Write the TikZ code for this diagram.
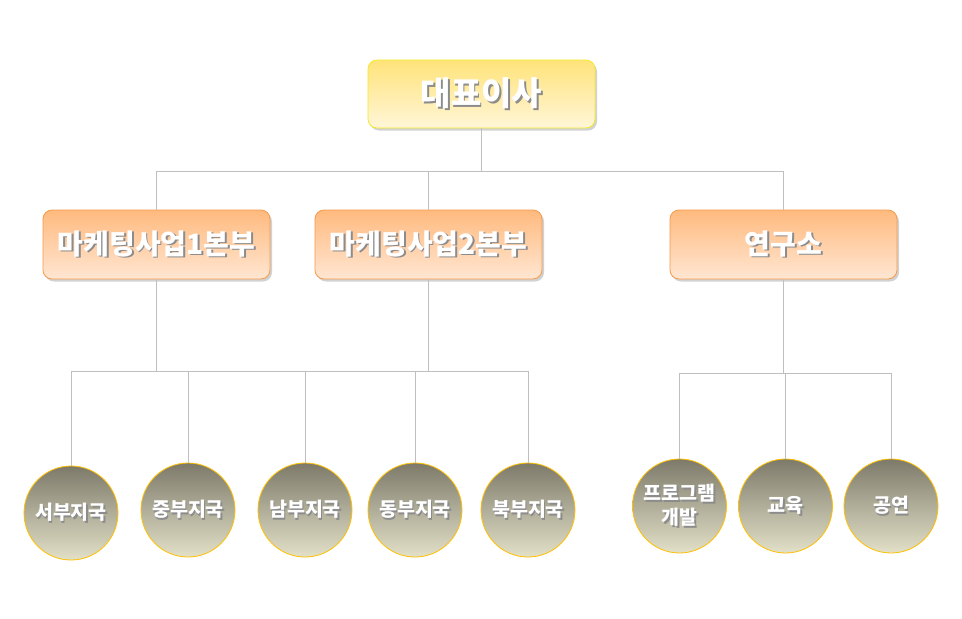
\documentclass[tikz,border=0pt]{standalone}
\usepackage{fontspec}
\newfontfamily\kr{Noto Sans CJK KR}
\usetikzlibrary{shadows}
\definecolor{lineC}{HTML}{BFBFBF}
\definecolor{ceoTop}{HTML}{FFE37A}
\definecolor{ceoBot}{HTML}{FFF6D8}
\definecolor{ceoEdge}{HTML}{F2EA2A}
\definecolor{orTop}{HTML}{FFBA7E}
\definecolor{orBot}{HTML}{FFE6D2}
\definecolor{orEdge}{HTML}{F59A4B}
\definecolor{ciTop}{HTML}{7D7A6A}
\definecolor{ciBot}{HTML}{E3E0C8}
\definecolor{ciEdge}{HTML}{FFC000}
\newcommand\shtxt[1]{\makebox[0pt][l]{\hspace{1.8pt}\raisebox{-1.8pt}{\textcolor{black!45}{#1}}}#1}
\begin{document}
\begin{tikzpicture}[x=1pt,y=-1pt,
  conn/.style={draw=lineC,line width=1pt},
  ceobox/.style={rectangle,rounded corners=9pt,minimum width=227pt,minimum height=68pt,
    top color=ceoTop,bottom color=ceoBot,draw=ceoEdge,line width=0.8pt,
    drop shadow={opacity=0.35,shadow xshift=2pt,shadow yshift=-2.5pt},
    text=white,font=\kr\bfseries\fontsize{33}{36}\selectfont},
  deptbox/.style={rectangle,rounded corners=9pt,minimum width=227pt,minimum height=69pt,
    top color=orTop,bottom color=orBot,draw=orEdge,line width=0.8pt,
    drop shadow={opacity=0.35,shadow xshift=2pt,shadow yshift=-2.5pt},
    text=white,font=\kr\bfseries\fontsize{28}{30}\selectfont},
  unit/.style={circle,minimum size=94pt,inner sep=0pt,
    top color=ciTop,bottom color=ciBot,draw=ciEdge,line width=0.8pt,
    text=white,align=center,font=\kr\bfseries\fontsize{19.5}{23}\selectfont}]
\useasboundingbox (0,0) rectangle (962,619);
\fill[white] (0,0) rectangle (962,619);

\coordinate (busA) at (481.5,171);
\coordinate (busB) at (300,371);
\coordinate (busC) at (783.5,373);

\node[ceobox] (ceo) at (481.5,94) {\shtxt{대표이사}};
\node[deptbox] (b1) at (156.5,244.5) {\shtxt{마케팅사업1본부}};
\node[deptbox] (b2) at (428.5,244.5) {\shtxt{마케팅사업2본부}};
\node[deptbox] (b3) at (783.5,244.5) {\shtxt{연구소}};

\node[unit] (c1) at (71,513) {\shtxt{서부지국}};
\node[unit] (c2) at (188,510) {\shtxt{중부지국}};
\node[unit] (c3) at (305,510) {\shtxt{남부지국}};
\node[unit] (c4) at (415,510) {\shtxt{동부지국}};
\node[unit] (c5) at (528,510) {\shtxt{북부지국}};
\node[unit] (r1) at (679.5,506) {\shtxt{프로그램}\\[1pt]\shtxt{개발}};
\node[unit] (r2) at (785.5,506) {\shtxt{교육}};
\node[unit] (r3) at (891,506) {\shtxt{공연}};

\draw[conn] (ceo.south) -- (busA);
\draw[conn] (b1.north) |- (busA);
\draw[conn] (b2.north) |- (busA);
\draw[conn] (b3.north) |- (busA);

\draw[conn] (b1.south) |- (busB);
\draw[conn] (b2.south) |- (busB);
\draw[conn] (c1.north) |- (busB);
\draw[conn] (c2.north) |- (busB);
\draw[conn] (c3.north) |- (busB);
\draw[conn] (c4.north) |- (busB);
\draw[conn] (c5.north) |- (busB);

\draw[conn] (b3.south) -- (busC);
\draw[conn] (r1.north) |- (busC);
\draw[conn] (r2.north) |- (busC);
\draw[conn] (r3.north) |- (busC);
\end{tikzpicture}
\end{document}
